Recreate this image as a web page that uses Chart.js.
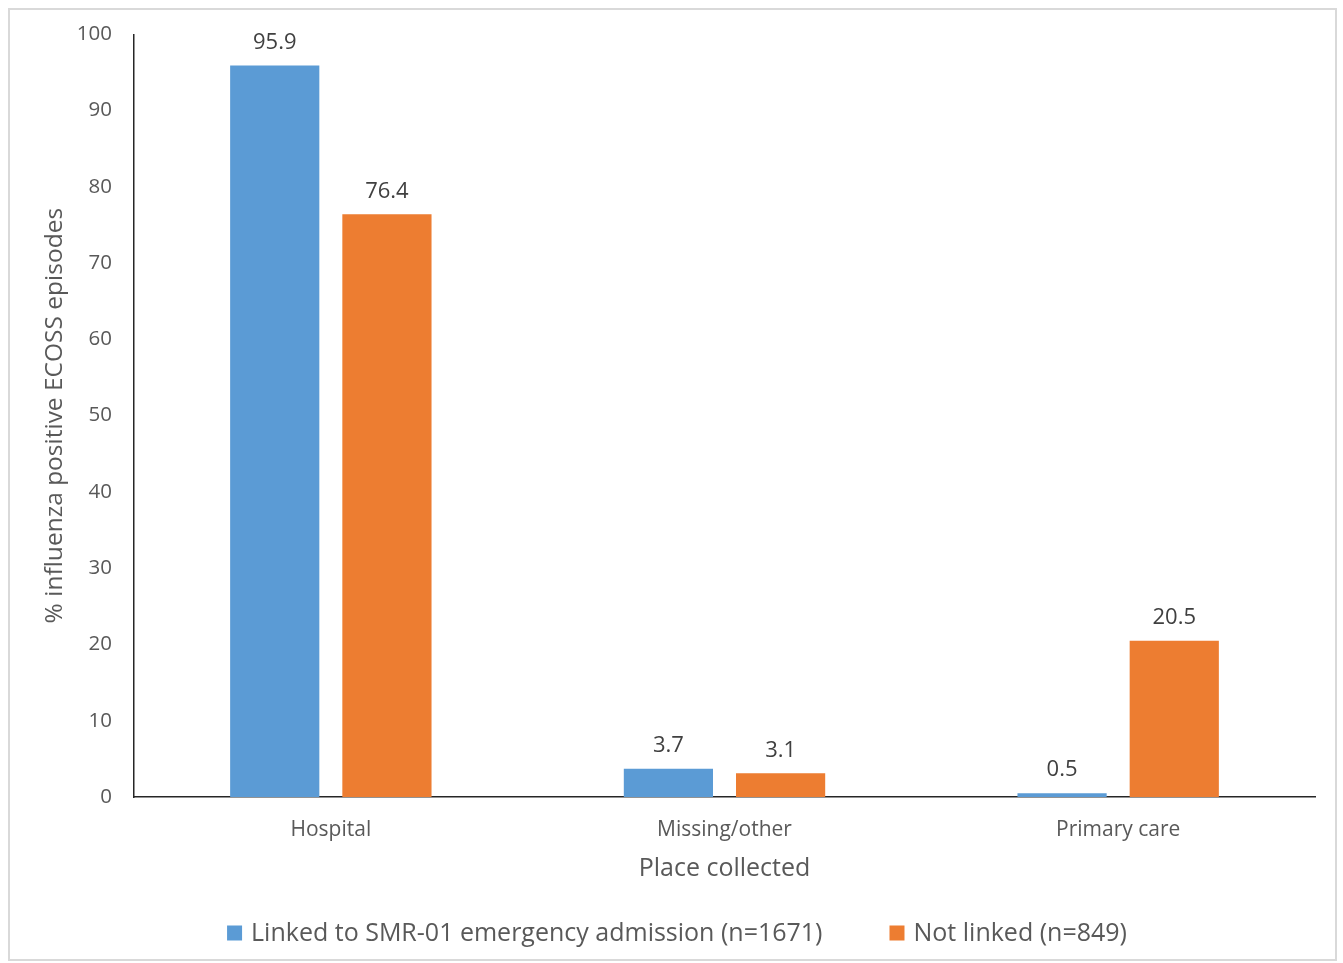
<!DOCTYPE html>
<html><head><meta charset="utf-8">
<script src="https://cdn.jsdelivr.net/npm/chart.js@4"></script>
<style>html,body{margin:0;padding:0;background:#fff;}#wrap{width:1343px;height:963px;position:relative;}</style>
</head><body><div id="wrap"><canvas id="c" width="1343" height="963"></canvas></div>
<script>
const categories = ["Hospital", "Missing/other", "Primary care"];
const linkedValues = [95.9, 3.7, 0.5];
const notLinkedValues = [76.4, 3.1, 20.5];
const seriesNames = ["Linked to SMR-01 emergency admission (n=1671)", "Not linked (n=849)"];
const yTitle = "% influenza positive ECOSS episodes";
const xTitle = "Place collected";

const FONT = "'Open Sans', 'Noto Sans', sans-serif";
const frame = {id:'frame', beforeDraw(chart){const c=chart.ctx;c.save();c.fillStyle='#fff';c.fillRect(0,0,chart.width,chart.height);c.strokeStyle='#d9d9d9';c.lineWidth=2;c.strokeRect(9,9,1327,951);c.restore();}};
const labels = {id:'labels', afterDatasetsDraw(chart){const c=chart.ctx;c.save();c.font="22px "+FONT;c.fillStyle='#404040';c.textAlign='center';c.textBaseline='middle';
 chart.data.datasets.forEach((ds,i)=>{chart.getDatasetMeta(i).data.forEach((bar,j)=>{c.fillText(ds.data[j].toFixed(1),bar.x,bar.y-23);});});c.restore();}};
const legendPlugin = {id:'customLegend', afterDraw(chart){
  const c=chart.ctx; c.save(); c.font="25px "+FONT; c.textBaseline='middle'; c.textAlign='left';
  const ds=chart.data.datasets; const box=15, gap=9, itemGap=67;
  const widths=ds.map(d=>c.measureText(d.label).width);
  let total=0; widths.forEach((w,i)=>{total+=box+gap+w+(i<ds.length-1?itemGap:0);});
  let x=677-total/2; const y=933;
  ds.forEach((d,i)=>{c.fillStyle=d.backgroundColor; c.fillRect(x,y-box/2,box,box); c.fillStyle='#595959'; c.fillText(d.label,x+box+gap,y+1); x+=box+gap+widths[i]+itemGap;});
  c.restore();}};

new Chart(document.getElementById('c'), {
  type:'bar',
  data:{labels:categories, datasets:[
    {label:seriesNames[0], data:linkedValues, backgroundColor:'#5B9BD5', categoryPercentage:0.57, barPercentage:0.795},
    {label:seriesNames[1], data:notLinkedValues, backgroundColor:'#ED7D31', categoryPercentage:0.57, barPercentage:0.795}
  ]},
  options:{responsive:false, animation:false, devicePixelRatio:1,
    layout:{padding:{left:10,right:28,top:34,bottom:75}},
    plugins:{tooltip:{enabled:false}, legend:{display:false}},
    scales:{
      x:{grid:{display:false, drawTicks:false}, border:{color:'#262626', width:1.5},
         ticks:{color:'#595959', font:{family:FONT,size:21}, padding:20},
         title:{display:true,text:xTitle,color:'#595959',font:{family:FONT,size:25},padding:{top:4,bottom:4}},
         afterFit(s){s.height=91;}},
      y:{min:0,max:100, grid:{display:false, drawTicks:false}, border:{color:'#262626', width:1.5},
         ticks:{stepSize:10, color:'#595959', font:{family:FONT,size:20.5}, padding:22},
         title:{display:true,text:yTitle,color:'#595959',font:{family:FONT,size:24.5},padding:{top:30,bottom:4}},
         afterFit(s){s.width=124;}}
    }
  },
  plugins:[frame, labels, legendPlugin]
});
</script></body></html>
